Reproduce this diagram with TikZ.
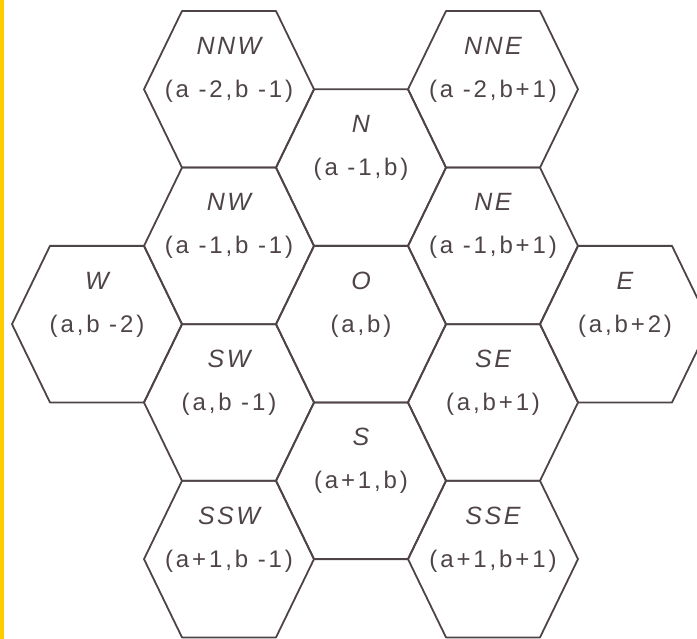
\documentclass[tikz,border=0pt]{standalone}
\usepackage{fontspec}
\newfontfamily\hexfont[LetterSpace=12]{Liberation Sans}
\definecolor{hexgray}{RGB}{78,68,70}
\definecolor{bargold}{RGB}{255,204,0}

\begin{document}
\begin{tikzpicture}[x=1pt, y=-1pt,
    hexline/.style={draw=hexgray, line width=1.8pt, line join=round},
    cellname/.style={anchor=base, inner sep=0pt, text=hexgray,
                     font=\hexfont\fontsize{25}{29}\selectfont\itshape\addfontfeature{LetterSpace=10}},
    cellpos/.style={anchor=base, inner sep=0pt, text=hexgray,
                    font=\hexfont\fontsize{24}{28}\selectfont}
]
\useasboundingbox (0,0) rectangle (697,639);
\clip (0,0) rectangle (697,639);
\fill[bargold] (0,0) rectangle (4,639);

% cells: name / column x / half-row / position
\foreach \n/\cx/\k/\pos in {NNW/229/0/{(a -2,b -1)}, NNE/493/0/{(a -2,b+1)},
                            N/361/1/{(a -1,b)},
                            NW/229/2/{(a -1,b -1)}, NE/493/2/{(a -1,b+1)},
                            W/97/3/{(a,b -2)}, O/361/3/{(a,b)}, E/625/3/{(a,b+2)},
                            SW/229/4/{(a,b -1)}, SE/493/4/{(a,b+1)},
                            S/361/5/{(a+1,b)},
                            SSW/229/6/{(a+1,b -1)}, SSE/493/6/{(a+1,b+1)}}{
    \pgfmathsetmacro\cy{89.3+78.3*\k}
    \coordinate (\n) at (\cx,\cy);
    \draw[hexline] (\n) ++(-85,0) -- ++(38,-78.3) -- ++(94,0) -- ++(38,78.3)
                   -- ++(-38,78.3) -- ++(-94,0) -- cycle;
    \node[cellname] (\n-name) at (\cx,\cy-35) {\n};
    \node[cellpos] (\n-pos) at (\cx,\cy+8) {\pos};
}
\end{tikzpicture}
\end{document}
